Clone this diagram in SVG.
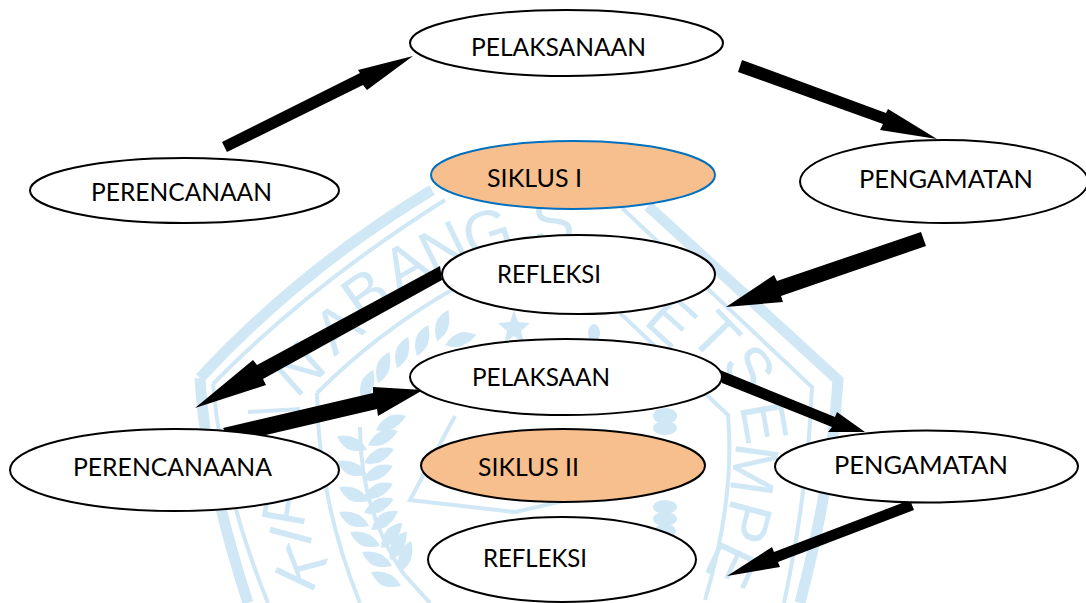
<svg xmlns="http://www.w3.org/2000/svg" width="1086" height="603" viewBox="0 0 1086 603">
<style>
.n{fill:#fff;stroke:#000;stroke-width:2}
.o{fill:#f8bf8e;stroke:#000;stroke-width:2}
.b{fill:#f8bf8e;stroke:#0070c0;stroke-width:2}
.t{font-family:Lato,"Open Sans",sans-serif;font-size:25.500px;fill:#000}
.a{fill:#000;stroke:none}
.w{fill:none;stroke:#d0e8f5;stroke-width:11}
.w2{fill:none;stroke:#d0e8f5;stroke-width:4}
.wf{fill:#d0e8f5;stroke:none}
.wt{font-family:"Liberation Sans",sans-serif;font-size:62px;fill:#d0e8f5;text-anchor:middle}
</style>
<defs>
<path id="lf" d="M0,0 Q10,-8 20,-7 Q28,-5 33,0 Q24,6 14,6 Q6,5 0,0Z"/>
</defs>
<rect width="1086" height="603" fill="#fff"/>
<g id="watermark">
<path class="w" d="M200,378 Q300,270 432,190 M648,206 L838,380 Q832,480 800,603 M200,378 Q205,470 248,603"/>
<path class="w2" d="M213,384 Q310,285 445,200 M622,208 L812,387 Q808,490 784,603 M213,384 Q222,490 268,603"/>
<path class="w2" d="M317,393 Q380,330 457,287 M317,393 Q318,500 360,603 M620,313 L728,415 Q735,500 705,600"/>
<path class="w2" d="M248,412 L300,409"/>
<path class="w2" d="M455,416 L410,500 L515,512 L590,495"/>
<path class="w2" d="M360,427 Q360,510 403,573 L430,603"/>
<polygon class="wf" points="514,310 518,322 530,323 521,331 524,343 514,336 504,343 507,331 498,323 510,322"/>
<g class="wf">
<use href="#lf" transform="translate(376,430) rotate(-25)"/>
<use href="#lf" transform="translate(368,445) rotate(-25)"/>
<use href="#lf" transform="translate(364,463) rotate(-25)"/>
<use href="#lf" transform="translate(363,480) rotate(-25)"/>
<use href="#lf" transform="translate(363,498) rotate(-25)"/>
<use href="#lf" transform="translate(364,513) rotate(-25)"/>
<use href="#lf" transform="translate(371,530) rotate(-35)"/>
<use href="#lf" transform="translate(381,548) rotate(-50)"/>
<use href="#lf" transform="translate(390,560) rotate(-60)"/>
<use href="#lf" transform="translate(400,572) rotate(-70)"/>
<use href="#lf" transform="translate(367,450) rotate(205)"/>
<use href="#lf" transform="translate(367,475) rotate(205)"/>
<use href="#lf" transform="translate(369,501) rotate(205)"/>
<use href="#lf" transform="translate(369,526) rotate(205)"/>
<use href="#lf" transform="translate(380,546) rotate(205)"/>
<use href="#lf" transform="translate(392,566) rotate(205)"/>
<use href="#lf" transform="translate(401,586) rotate(205)"/>
<use href="#lf" transform="translate(437,341) rotate(-70)"/>
<use href="#lf" transform="translate(417,356) rotate(-70)"/>
<use href="#lf" transform="translate(397,368) rotate(-70)"/>
<use href="#lf" transform="translate(378,383) rotate(-70)"/>
<use href="#lf" transform="translate(362,401) rotate(-70)"/>
<use href="#lf" transform="translate(445,345) rotate(-18)"/>
<ellipse cx="665" cy="416" rx="12" ry="8"/>
<ellipse cx="665" cy="428" rx="12" ry="7"/>
<ellipse cx="665" cy="507" rx="12" ry="7"/>
<ellipse cx="665" cy="519" rx="12" ry="7"/>
<ellipse cx="665" cy="531" rx="11" ry="7"/>
<ellipse cx="594" cy="333" rx="6" ry="9"/>
</g>
<text class="wt" transform="translate(298,368) rotate(-42)" y="22">N</text>
<text class="wt" transform="translate(337,327) rotate(-38)" y="22">A</text>
<text class="wt" transform="translate(365,293) rotate(-35)" y="22">B</text>
<text class="wt" transform="translate(405,265) rotate(-30)" y="22">A</text>
<text class="wt" transform="translate(443,247) rotate(-26)" y="22">N</text>
<text class="wt" transform="translate(487,232) rotate(-18)" y="22">G</text>
<text class="wt" transform="translate(553,221) rotate(-6)" y="22">S</text>
<text class="wt" transform="translate(672,320) rotate(42)" y="22">E</text>
<text class="wt" transform="translate(716,335) rotate(46)" y="22">T</text>
<text class="wt" transform="translate(750,368) rotate(55)" y="22">S</text>
<text class="wt" transform="translate(765,422) rotate(80)" y="22">E</text>
<text class="wt" transform="translate(755,470) rotate(98)" y="22">M</text>
<text class="wt" transform="translate(748,522) rotate(105)" y="22">P</text>
<text class="wt" transform="translate(733,565) rotate(115)" y="22">E</text>
<text class="wt" transform="translate(300,567) rotate(-65)" y="22">K</text>
<text class="wt" transform="translate(290,535) rotate(-75)" y="22">I</text>
<text class="wt" transform="translate(285,505) rotate(-80)" y="22">P</text>
</g>
<g id="connectors">
<polygon class="a" points="222,142 360,73 358,70 413,56 367,90 363,85 227,152"/>
<polygon class="a" points="742,60 886,113 888,109 937,139 880,130 883,124 738,72"/>
<polygon class="a" points="921,232 777,281 774,275 726,307 783,302 781,296 926,246"/>
<polygon class="a" points="440,266 257,365 253,360 195,408 266,385 263,379 442,280"/>
<polygon class="a" points="223,428 373,393 373,387 423,390 378,416 377,409 232,443"/>
<polygon class="a" points="720,370 835,417 837,412 865,432 828,432 832,427 722,383"/>
<polygon class="a" points="910,500 774,552 772,547 727,576 780,567 778,562 914,510"/>
</g>
<g id="n1"><ellipse class="n" cx="566.500" cy="43" rx="156.500" ry="33"/><text class="t" x="471" y="56" textLength="175" lengthAdjust="spacingAndGlyphs">PELAKSANAAN</text></g>
<g id="n2"><ellipse class="n" cx="184.500" cy="190.500" rx="154.500" ry="32.500"/><text class="t" x="91" y="201" textLength="181" lengthAdjust="spacingAndGlyphs">PERENCANAAN</text></g>
<g id="n3"><ellipse class="b" cx="573" cy="175" rx="142" ry="34"/><text class="t" x="487" y="187" textLength="95" lengthAdjust="spacingAndGlyphs">SIKLUS I</text></g>
<g id="n4"><ellipse class="n" cx="944" cy="181.500" rx="144" ry="41.500"/><text class="t" x="859" y="188" textLength="174" lengthAdjust="spacingAndGlyphs">PENGAMATAN</text></g>
<g id="n5"><ellipse class="n" cx="578.500" cy="274.500" rx="136.500" ry="39.500"/><text class="t" x="497" y="283" textLength="104" lengthAdjust="spacingAndGlyphs">REFLEKSI</text></g>
<g id="n6"><ellipse class="n" cx="566" cy="377" rx="156" ry="38"/><text class="t" x="472" y="386" textLength="138" lengthAdjust="spacingAndGlyphs">PELAKSAAN</text></g>
<g id="n7"><ellipse class="n" cx="174.500" cy="470" rx="164.500" ry="41"/><text class="t" x="73" y="476" textLength="199" lengthAdjust="spacingAndGlyphs">PERENCANAANA</text></g>
<g id="n8"><ellipse class="o" cx="563" cy="465.500" rx="142" ry="36.500"/><text class="t" x="478" y="476" textLength="101" lengthAdjust="spacingAndGlyphs">SIKLUS II</text></g>
<g id="n9"><ellipse class="n" cx="926.500" cy="466.500" rx="151.500" ry="36"/><text class="t" x="834" y="474" textLength="174" lengthAdjust="spacingAndGlyphs">PENGAMATAN</text></g>
<g id="n10"><ellipse class="n" cx="562" cy="559.500" rx="134" ry="42.500"/><text class="t" x="483" y="567" textLength="104" lengthAdjust="spacingAndGlyphs">REFLEKSI</text></g>
</svg>
